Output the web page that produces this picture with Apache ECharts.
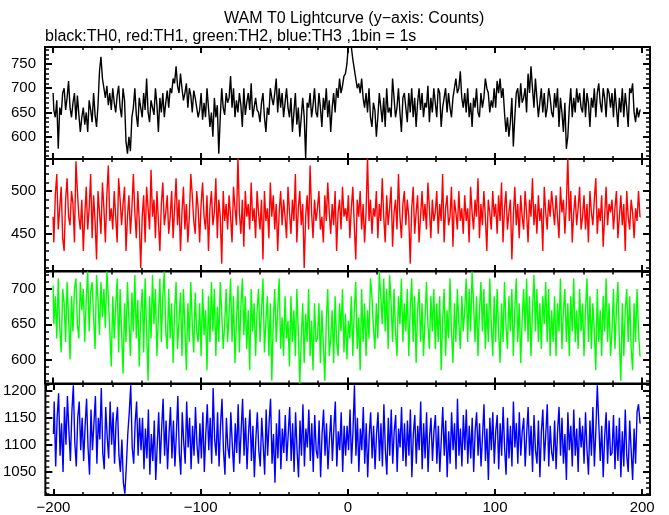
<!DOCTYPE html>
<html>
<head>
<meta charset="utf-8">
<script src="https://cdn.jsdelivr.net/npm/echarts@6/dist/echarts.min.js"></script>
<style>
html,body{margin:0;padding:0;background:#fff;}
#chart{width:669px;height:515px;}
</style>
</head>
<body>
<div id="chart"></div>
<script>
// ---- data (1 s bins, starting at t = -200 s) ----
const tStart = -200;
const titleText = 'WAM T0 Lightcurve (y\u2212axis: Counts)';
const subtitleText = 'black:TH0, red:TH1, green:TH2, blue:TH3 ,1bin = 1s';
const seriesNames = ['TH0', 'TH1', 'TH2', 'TH3'];
const xTickLabels = [-200, -100, 0, 100, 200];

const th0 = [
690,655,640,675,575,660,645,690,700,655,680,715,660,640,670,690,635,685,645,610,
640,660,625,650,610,675,655,630,690,645,620,665,735,765,720,700,680,705,665,690,
655,700,670,650,685,705,660,640,700,675,590,565,600,570,640,660,700,645,620,680,
660,640,690,655,720,650,630,675,660,645,700,665,610,680,650,690,640,670,695,660,
700,690,720,710,745,705,690,730,700,675,690,710,660,700,685,650,695,680,660,640,
655,690,635,670,640,700,660,620,650,600,680,640,665,565,640,700,660,645,690,670,
680,725,660,700,640,675,650,690,665,620,700,645,670,690,655,710,640,660,680,655,
650,630,670,690,640,610,660,645,700,680,665,690,720,650,700,660,690,640,670,700,
660,640,680,610,650,690,625,660,600,640,680,640,555,670,660,690,640,665,700,650,
640,690,660,620,680,655,700,640,675,610,660,690,650,700,680,720,690,705,725,730,
750,790,790,785,760,740,720,700,710,690,720,680,660,690,650,700,640,620,670,655,
600,640,690,660,630,680,620,700,650,660,640,720,680,640,660,700,650,610,680,690,
660,630,690,650,700,640,680,620,670,700,655,690,640,670,660,705,630,680,650,700,
670,640,700,690,620,660,680,700,650,690,660,640,680,700,720,690,700,735,680,660,
690,650,700,640,670,620,680,660,700,650,640,690,660,680,720,700,690,650,675,660,
700,660,715,690,720,680,700,650,610,640,600,630,680,580,640,690,700,660,710,670,
680,700,650,730,690,745,700,660,720,680,640,670,700,650,690,640,660,700,680,650,
640,690,660,700,620,680,650,610,670,575,600,660,700,640,680,650,700,670,690,660,
650,700,640,690,670,620,680,660,700,640,690,710,670,650,700,680,640,700,690,660,
690,640,700,660,620,680,650,700,640,690,660,620,700,690,710,650,630,660,640,655
];
const th1 = [
470,440,495,520,455,480,505,445,430,490,515,470,460,500,485,440,535,500,470,455,
490,430,470,505,455,480,520,445,495,465,420,500,475,450,510,480,440,495,530,465,
480,455,500,470,440,515,490,460,485,505,430,470,495,450,480,520,475,445,500,465,
410,470,495,440,505,480,455,525,470,490,445,500,465,430,485,510,460,475,495,450,
470,500,445,480,515,460,490,430,475,505,455,485,440,470,520,495,465,450,500,480,
440,485,510,470,455,495,430,480,500,460,475,515,445,490,470,415,500,465,485,455,
495,470,440,505,480,460,540,475,450,490,435,500,470,485,455,510,465,480,445,500,
475,455,490,420,500,465,480,445,510,470,495,455,485,430,475,500,460,490,470,445,
505,475,450,490,465,520,440,480,500,460,485,410,470,495,455,530,475,445,490,465,
480,500,455,470,440,495,465,510,475,450,485,460,500,430,475,490,455,505,470,480,
465,495,445,480,505,460,420,490,470,500,455,485,440,475,540,465,490,450,480,470,
500,445,485,465,515,470,440,495,460,480,505,435,475,490,455,520,470,445,485,500,
460,490,470,415,480,505,450,475,495,440,470,500,465,485,455,510,480,445,490,465,
475,500,450,485,465,520,440,480,495,460,470,505,435,490,475,455,500,465,480,450,
495,465,480,440,505,475,455,490,470,515,445,485,460,500,470,430,490,475,455,500,
470,485,450,495,465,510,440,480,500,455,475,490,420,470,505,460,485,445,495,470,
455,500,475,440,490,470,515,460,485,450,495,465,480,430,505,475,455,490,470,500,
480,460,495,470,445,505,475,490,450,485,540,465,500,440,475,495,460,480,505,455,
470,495,455,485,440,500,475,460,490,515,450,480,465,495,435,470,505,460,485,475,
490,455,480,500,445,470,495,460,485,430,500,470,455,490,475,445,480,465,500,470
];
const th2 = [
705,650,690,630,715,645,610,700,680,625,710,660,600,690,640,700,715,650,630,710,
670,700,625,685,725,640,695,710,660,615,720,685,635,710,660,700,645,725,690,640,
590,690,630,675,715,610,700,640,580,680,625,710,655,605,695,640,720,630,685,590,
665,700,610,715,640,570,690,630,720,650,700,605,660,715,625,690,725,640,615,700,
630,680,595,670,710,615,655,695,605,700,645,585,680,625,710,650,610,695,640,625,
680,605,700,635,670,585,690,625,710,640,700,605,675,625,710,665,615,650,700,625,
665,715,625,690,595,655,705,610,675,715,635,690,615,670,585,700,640,680,605,670,
700,625,670,715,610,655,690,605,680,570,655,700,625,670,715,615,660,605,690,630,
655,590,690,625,670,605,700,640,566,630,680,595,665,625,700,605,655,585,680,625,
630,680,595,670,620,570,655,700,605,630,670,595,690,625,605,680,640,700,610,665,
600,655,630,690,605,670,710,615,660,585,700,625,680,605,670,630,715,690,645,615,
680,630,725,690,650,715,640,700,615,720,680,625,700,640,605,690,650,715,625,680,
640,700,605,670,715,625,690,595,670,700,625,680,605,655,710,650,615,690,640,700,
615,680,625,690,585,655,700,605,670,630,715,640,595,680,625,700,650,615,690,640,
670,715,625,700,640,725,680,625,690,605,670,710,640,700,615,680,625,715,650,605,
690,625,700,640,595,680,625,710,650,615,690,640,700,605,670,715,625,680,595,655,
700,640,715,625,690,605,670,720,640,700,625,680,615,690,650,710,625,700,605,670,
625,690,605,680,640,715,615,670,700,625,680,605,690,640,715,625,670,615,700,640,
680,605,670,715,625,690,615,680,640,585,700,625,670,605,690,640,715,625,680,605,
640,700,615,670,710,625,570,680,605,670,700,625,690,615,585,680,625,700,640,605
];
const th3 = [
1120,1180,1060,1150,1195,1080,1140,1050,1170,1100,1190,1125,1070,1160,1210,1105,1060,1150,1180,1090,
1150,1070,1135,1185,1095,1045,1165,1090,1140,1190,1065,1150,1110,1205,1085,1055,1170,1115,1075,1180,
1100,1160,1065,1140,1170,1080,1050,1110,1030,1010,1060,1120,1160,1210,1095,1065,1140,1180,1080,1150,
1090,1150,1055,1130,1075,1165,1045,1120,1070,1145,1035,1100,1160,1065,1130,1185,1080,1145,1055,1120,
1170,1075,1145,1060,1120,1190,1085,1045,1160,1105,1065,1180,1095,1150,1055,1135,1080,1170,1100,1065,
1140,1075,1160,1050,1120,1175,1090,1150,1065,1205,1110,1080,1160,1060,1135,1185,1090,1045,1150,1095,
1075,1160,1100,1050,1140,1085,1175,1065,1125,1185,1080,1150,1055,1120,1165,1070,1135,1040,1110,1160,
1090,1060,1150,1100,1045,1165,1080,1140,1185,1065,1120,1030,1140,1075,1165,1055,1130,1085,1155,1070,
1120,1170,1070,1140,1050,1160,1090,1040,1145,1080,1175,1060,1130,1095,1165,1070,1140,1050,1155,1090,
1075,1145,1040,1120,1165,1080,1140,1055,1110,1155,1070,1130,1180,1060,1125,1090,1160,1050,1135,1080,
1135,1090,1165,1065,1125,1210,1080,1150,1050,1130,1090,1170,1065,1140,1040,1115,1160,1075,1135,1055,
1120,1160,1070,1140,1060,1175,1090,1045,1150,1080,1165,1065,1125,1155,1050,1130,1095,1170,1070,1140,
1060,1145,1080,1165,1040,1120,1155,1065,1135,1090,1180,1055,1140,1075,1160,1050,1115,1150,1070,1125,
1155,1065,1135,1050,1110,1170,1080,1145,1040,1125,1065,1160,1090,1140,1055,1185,1080,1130,1060,1155,
1090,1165,1065,1135,1075,1150,1050,1125,1160,1080,1140,1060,1115,1175,1070,1130,1035,1150,1090,1160,
1065,1125,1155,1055,1140,1080,1170,1095,1045,1150,1075,1135,1060,1180,1095,1140,1065,1160,1080,1125,
1150,1060,1120,1170,1080,1135,1050,1155,1090,1065,1145,1040,1125,1165,1070,1120,1175,1060,1135,1085,
1070,1145,1055,1125,1170,1080,1150,1065,1120,1035,1160,1090,1135,1060,1165,1080,1130,1050,1150,1095,
1135,1065,1160,1090,1045,1145,1080,1170,1060,1125,1210,1140,1070,1135,1040,1115,1160,1065,1145,1080,
1085,1155,1055,1135,1070,1150,1040,1125,1060,1165,1080,1050,1145,1090,1035,1130,1065,1160,1175,1140
];
const allSeries = [th0, th1, th2, th3];

// ---- layout / style ----
const colors = ['#000000', '#ff0000', '#00ff00', '#0000ff'];
const yRanges = [[554, 785], [406.5, 537.6], [566, 725], [1007.4, 1212.3]];
const xRange = [-205.5, 205.3];
const gridLeft = 45, gridWidth = 605, gridTops = [47, 159, 271.5, 384], gridH = 112;
const FONT = 'Liberation Sans, Arial, Helvetica, sans-serif';

const grids = [], xAxes = [], yAxes = [], series = [];
const fmtX = v => (v % 100 === 0 && xTickLabels.indexOf(v) >= 0) ? (v < 0 ? '\u2212' + (-v) : String(v)) : '';
const fmtY = v => (v % 50 === 0) ? String(v) : '';

for (let p = 0; p < 4; p++) {
  grids.push({left: gridLeft, top: gridTops[p], width: gridWidth, height: gridH,
    show: true, borderColor: '#000', borderWidth: 2, backgroundColor: 'transparent', containLabel: false});
  const xDefs = [
    {pos: 'bottom', iv: 100, len: 6, w: 2, label: p === 3},
    {pos: 'bottom', iv: 20, len: 3, w: 1.5, label: false},
    {pos: 'top', iv: 100, len: 6, w: 2, label: false},
    {pos: 'top', iv: 20, len: 3, w: 1.5, label: false}
  ];
  xDefs.forEach(d => {
    xAxes.push({type: 'value', gridIndex: p, position: d.pos, min: xRange[0], max: xRange[1],
      minInterval: d.iv, maxInterval: d.iv,
      axisLine: {show: false, onZero: false},
      axisTick: {show: true, inside: true, length: d.len, lineStyle: {color: '#000', width: d.w}},
      axisLabel: {show: d.label, formatter: fmtX, color: '#000', fontSize: 15, fontFamily: FONT, margin: 5,
        showMinLabel: false, showMaxLabel: false},
      splitLine: {show: false}});
  });
  const yDefs = [
    {pos: 'left', iv: 50, len: 7, w: 2, label: true},
    {pos: 'left', iv: 10, len: 4, w: 1.5, label: false},
    {pos: 'right', iv: 50, len: 7, w: 2, label: false},
    {pos: 'right', iv: 10, len: 4, w: 1.5, label: false}
  ];
  yDefs.forEach(d => {
    yAxes.push({type: 'value', gridIndex: p, position: d.pos, min: yRanges[p][0], max: yRanges[p][1],
      minInterval: d.iv, maxInterval: d.iv, scale: true,
      axisLine: {show: false, onZero: false},
      axisTick: {show: true, inside: true, length: d.len, lineStyle: {color: '#000', width: d.w}},
      axisLabel: {show: d.label, formatter: fmtY, color: '#000', fontSize: 15, fontFamily: FONT, margin: 9,
        showMinLabel: false, showMaxLabel: false},
      splitLine: {show: false}});
  });
  const vals = allSeries[p];
  series.push({
    name: seriesNames[p], type: 'line', xAxisIndex: p * 4, yAxisIndex: p * 4,
    data: vals.map((v, i) => [tStart + i, v]),
    step: 'middle', showSymbol: false, symbol: 'none', sampling: null, clip: true,
    lineStyle: {color: colors[p], width: 1.4}, itemStyle: {color: colors[p]}, z: 1
  });
}

const chart = echarts.init(document.getElementById('chart'), null, {renderer: 'canvas'});
chart.setOption({
  animation: false,
  backgroundColor: '#fff',
  graphic: [
    {type: 'text', left: 224, top: 11,
      style: {text: titleText, fill: '#000', font: '16px ' + FONT}},
    {type: 'text', left: 45, top: 29,
      style: {text: subtitleText, fill: '#000', font: '16px ' + FONT}}
  ],
  grid: grids, xAxis: xAxes, yAxis: yAxes, series: series
});
</script>
</body>
</html>
